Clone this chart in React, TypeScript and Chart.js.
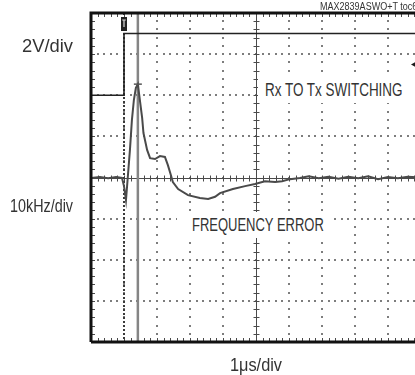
import React, { useEffect, useRef } from "react";
import { Chart, registerables } from "chart.js";

Chart.register(...registerables);

// ---- data (time in µs, 1 µs/div; frequency error in kHz, 10 kHz/div; control step in V, 2 V/div)
const timeUs = [0, 0.27, 0.52, 0.76, 0.94, 1.0, 1.06, 1.12, 1.18, 1.24, 1.3, 1.36, 1.42, 1.48, 1.55, 1.59, 1.7, 1.79, 1.94, 2.09, 2.24, 2.33, 2.42, 2.48, 2.64, 2.94, 3.3, 3.55, 3.76, 3.91, 4.3, 4.67, 4.97, 5.27, 5.58, 5.79, 6.03, 6.33, 6.6, 6.9, 7.2, 7.5, 7.8, 8.1, 8.4, 8.7, 9.0, 9.3, 9.6, 10];
const freqErrorKHz = [-0.1, 0.1, -0.2, 0.1, -0.1, -2.1, -5.5, 0.6, 6.7, 14.0, 18.9, 21.8, 22.7, 18.9, 14.5, 10.8, 6.7, 4.7, 4.5, 5.2, 5.0, 3.0, 0.6, -1.1, -2.8, -4.3, -5.0, -5.2, -4.7, -3.8, -2.8, -2.1, -1.6, -0.9, -1.1, -0.9, -0.4, -0.1, 0.3, -0.2, 0.2, -0.3, 0.2, -0.2, 0.3, -0.4, 0.1, -0.2, 0.2, 0];
const stepTimeUs = [0, 1.0, 1.0, 10];
const stepVolts = [0, 0, 3, 3];
const triggerTimeUs = 1.0;
const triggerLevelV = 1.5;
const cursorTimeUs = 1.42;

const timeRange = [0, 10];
const freqRange = [-40, 40];
const voltRange = [-12, 4];

const topNote = "MAX2839ASWO+T toc6";
const voltsLabel = "2V/div";
const freqLabel = "10kHz/div";
const timeLabel = "1\u03BCs/div";
const switchLabel = "Rx TO Tx SWITCHING";
const errorLabel = "FREQUENCY ERROR";

const FONT = '"Liberation Sans", Arial, sans-serif';
const TEXT_COLOR = "#333";

const scopePlugin = {
  id: "scope",
  beforeDatasetsDraw(chart: any) {
    const { ctx, chartArea: a, scales } = chart;
    const xs = scales.x;
    const ys = scales.y;
    ctx.save();
    // dotted division lines
    ctx.fillStyle = "#7d7d7d";
    for (let i = 1; i < 10; i++) {
      if (i === 5) continue;
      const px = Math.round(xs.getPixelForValue(i));
      for (let k = 0; k <= 40; k++) {
        const py = Math.round(ys.getPixelForValue(-40 + k * 2));
        ctx.fillRect(px - 1, py - 1, 2, 2);
      }
    }
    for (let j = -3; j <= 3; j++) {
      if (j === 0) continue;
      const py = Math.round(ys.getPixelForValue(j * 10));
      for (let k = 0; k <= 50; k++) {
        const px = Math.round(xs.getPixelForValue(k * 0.2));
        ctx.fillRect(px - 1, py - 1, 2, 2);
      }
    }
    // center axes with minor ticks
    ctx.strokeStyle = "#4a4a4a";
    ctx.lineWidth = 1;
    const cx = Math.round(xs.getPixelForValue(5)) + 0.5;
    const cy = Math.round(ys.getPixelForValue(0)) + 0.5;
    ctx.beginPath();
    ctx.moveTo(cx, a.top);
    ctx.lineTo(cx, a.bottom);
    ctx.moveTo(a.left, cy);
    ctx.lineTo(a.right, cy);
    for (let k = 0; k <= 40; k++) {
      const py = Math.round(ys.getPixelForValue(-40 + k * 2)) + 0.5;
      ctx.moveTo(cx - 3, py);
      ctx.lineTo(cx + 3, py);
      ctx.moveTo(a.left, py);
      ctx.lineTo(a.left + 4, py);
    }
    for (let k = 0; k <= 50; k++) {
      const px = Math.round(xs.getPixelForValue(k * 0.2)) + 0.5;
      ctx.moveTo(px, cy - 3);
      ctx.lineTo(px, cy + 3);
      ctx.moveTo(px, a.bottom);
      ctx.lineTo(px, a.bottom - 4);
      ctx.moveTo(px, a.top);
      ctx.lineTo(px, a.top + 4);
    }
    ctx.stroke();
    // dotted trigger column
    const tx = Math.round(xs.getPixelForValue(triggerTimeUs));
    ctx.strokeStyle = "#3a3a3a";
    ctx.lineWidth = 2;
    ctx.setLineDash([2, 2]);
    ctx.beginPath();
    ctx.moveTo(tx, a.top);
    ctx.lineTo(tx, a.bottom);
    ctx.stroke();
    ctx.setLineDash([]);
    // cursor line
    const ux = xs.getPixelForValue(cursorTimeUs);
    ctx.strokeStyle = "#858585";
    ctx.lineWidth = 2.5;
    ctx.beginPath();
    ctx.moveTo(ux, a.top);
    ctx.lineTo(ux, a.bottom);
    ctx.stroke();
    ctx.restore();
  },
  afterDatasetsDraw(chart: any) {
    const { ctx, chartArea: a, scales } = chart;
    const xs = scales.x;
    const ys = scales.y;
    const y2 = scales.y2;
    ctx.save();
    // peak cursor cross
    let pi = 0;
    freqErrorKHz.forEach((v, i) => {
      if (v > freqErrorKHz[pi]) pi = i;
    });
    const px = xs.getPixelForValue(cursorTimeUs);
    const py = ys.getPixelForValue(freqErrorKHz[pi]);
    ctx.strokeStyle = "#555";
    ctx.lineWidth = 1.5;
    ctx.beginPath();
    ctx.moveTo(px - 4, py);
    ctx.lineTo(px + 4, py);
    ctx.stroke();
    // frame
    ctx.strokeStyle = "#111";
    ctx.lineWidth = 3;
    ctx.beginPath();
    ctx.moveTo(a.left, a.bottom);
    ctx.lineTo(a.left, a.top);
    ctx.lineTo(a.right, a.top);
    ctx.moveTo(a.left, a.bottom);
    ctx.lineTo(a.right, a.bottom);
    ctx.stroke();
    // trigger marker at top
    const tx = xs.getPixelForValue(triggerTimeUs);
    ctx.fillStyle = "#222";
    ctx.fillRect(tx - 3, a.top + 4, 6, 14);
    ctx.strokeStyle = "#ddd";
    ctx.lineWidth = 1.2;
    ctx.beginPath();
    ctx.moveTo(tx - 1.8, a.top + 7);
    ctx.lineTo(tx + 1.8, a.top + 7);
    ctx.moveTo(tx, a.top + 7);
    ctx.lineTo(tx, a.top + 14);
    ctx.stroke();
    // trigger level arrow on right edge
    const ly = y2.getPixelForValue(triggerLevelV);
    ctx.fillStyle = "#1a1a1a";
    ctx.beginPath();
    ctx.moveTo(411, ly);
    ctx.lineTo(419, ly - 4.5);
    ctx.lineTo(419, ly + 4.5);
    ctx.closePath();
    ctx.fill();
    ctx.restore();
  },
};

function fitScale(text: string, size: number, width: number) {
  const c = document.createElement("canvas").getContext("2d");
  if (!c) return 1;
  c.font = `${size}px ${FONT}`;
  const w = c.measureText(text).width;
  return w > 0 ? width / w : 1;
}

function Label(props: { text: string; left: number; baseline: number; size: number; width: number }) {
  const { text, left, baseline, size, width } = props;
  const s = fitScale(text, size, width);
  return (
    <div
      style={{
        position: "absolute",
        left,
        top: baseline - 0.8465 * size,
        fontFamily: FONT,
        fontSize: size,
        lineHeight: 1,
        whiteSpace: "nowrap",
        color: TEXT_COLOR,
        transform: `scaleX(${s})`,
        transformOrigin: "left top",
      }}
    >
      {text}
    </div>
  );
}

function Box(props: { x: number; y: number; w: number; h: number }) {
  return (
    <div
      style={{
        position: "absolute",
        left: props.x,
        top: props.y,
        width: props.w,
        height: props.h,
        background: "#fff",
      }}
    />
  );
}

export default function App() {
  const ref = useRef<HTMLCanvasElement | null>(null);
  useEffect(() => {
    if (!ref.current) return;
    const chart = new Chart(ref.current, {
      type: "line",
      data: {
        datasets: [
          {
            label: "Frequency error",
            data: timeUs.map((t, i) => ({ x: t, y: freqErrorKHz[i] })),
            borderColor: "#4a4a4a",
            borderWidth: 2,
            pointRadius: 0,
            tension: 0,
            yAxisID: "y",
          },
          {
            label: "Control",
            data: stepTimeUs.map((t, i) => ({ x: t, y: stepVolts[i] })),
            borderColor: "#222",
            borderWidth: 1.6,
            pointRadius: 0,
            tension: 0,
            yAxisID: "y2",
          },
        ],
      },
      options: {
        animation: false,
        responsive: false,
        devicePixelRatio: 1,
        events: [],
        layout: { padding: { left: 91, top: 13, right: 9, bottom: 33 } },
        plugins: { legend: { display: false }, tooltip: { enabled: false } },
        scales: {
          x: { type: "linear", min: timeRange[0], max: timeRange[1], display: false },
          y: { min: freqRange[0], max: freqRange[1], display: false },
          y2: { min: voltRange[0], max: voltRange[1], display: false },
        },
      },
      plugins: [scopePlugin],
    });
    return () => chart.destroy();
  }, []);

  return (
    <div style={{ position: "absolute", left: 0, top: 0, width: 415, height: 375, overflow: "hidden", background: "#fff" }}>
      <canvas ref={ref} width={430} height={375} style={{ position: "absolute", left: 0, top: 0 }} />
      <Label text={topNote} left={320} baseline={10} size={10} width={97.5} />
      <Label text={voltsLabel} left={22} baseline={53} size={18.5} width={51} />
      <Label text={freqLabel} left={10} baseline={213} size={18.5} width={63} />
      <Box x={258} y={77} w={170} h={26} />
      <Label text={switchLabel} left={265} baseline={97} size={18.5} width={138} />
      <Box x={177} y={212} w={156} h={26} />
      <Label text={errorLabel} left={192} baseline={232} size={18.5} width={132} />
      <Label text={timeLabel} left={230} baseline={372} size={18.5} width={52} />
    </div>
  );
}
